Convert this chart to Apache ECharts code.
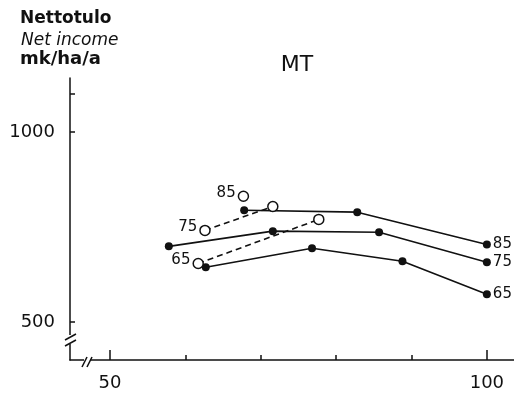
<!DOCTYPE html>
<html>
<head>
<meta charset="utf-8">
<script src="https://cdn.jsdelivr.net/npm/echarts@6/dist/echarts.min.js"></script>
<style>
html,body{margin:0;padding:0;background:#fff;}
#chart{width:514px;height:394px;}
</style>
</head>
<body>
<div id="chart"></div>
<script>
// ---- data ----
const xTicksShort = [60, 70, 80, 90];
const xTicksLong = [50, 100];
const xLabels = [50, 100];
const yTicks = [500, 1000, 1100];
const yLabels = [500, 1000];

const solidNames = ['85', '75', '65'];
const solid85X = [67.8, 82.8, 100];
const solid85Y = [794, 789, 704];
const solid75X = [57.8, 71.6, 85.7, 100];
const solid75Y = [699, 739, 736, 657];
const solid65X = [62.7, 76.8, 88.8, 100];
const solid65Y = [644, 694, 660, 573];

const openNames = ['85', '75', '65'];
const open85X = [67.7];
const open85Y = [831];
const open75X = [62.6, 71.6];
const open75Y = [741, 804];
const open65X = [61.7, 77.7];
const open65Y = [654, 770];

const titleText = 'MT';
const yTitle1 = 'Nettotulo';
const yTitle2 = 'Net income';
const yTitle3 = 'mk/ha/a';

// ---- chart ----
const FONT = '"DejaVu Sans", "Liberation Sans", Arial, sans-serif';
const INK = '#111';
const xMin = 44.69, xMax = 103.6, yMin = 400, yMax = 1142;

function pts(xs, ys) { return xs.map((x, i) => [x, ys[i]]); }

function solidSeries(name, xs, ys) {
  const data = pts(xs, ys).map((p, i, arr) => i === arr.length - 1 ? {
    value: p,
    label: { show: true, position: 'right', distance: 2, formatter: name,
      fontFamily: FONT, fontSize: 15, color: INK, offset: [0, 0] }
  } : { value: p });
  return {
    type: 'line', name: name + ' solid', data: data,
    symbol: 'circle', symbolSize: 8,
    itemStyle: { color: INK },
    lineStyle: { color: INK, width: 1.6 },
    z: 3, animation: false
  };
}
function openSeries(name, xs, ys) {
  const data = pts(xs, ys).map((p, i) => i === 0 ? {
    value: p,
    label: { show: true, position: 'left', distance: 2, formatter: name,
      fontFamily: FONT, fontSize: 15, color: INK, offset: [0, -3] }
  } : { value: p });
  return {
    type: 'line', name: name + ' open', data: data,
    symbol: 'circle', symbolSize: 10,
    itemStyle: { color: '#fff', borderColor: INK, borderWidth: 1.5 },
    lineStyle: { color: INK, width: 1.6, type: [6, 4] },
    z: 4, animation: false
  };
}

const plain = v => String(v);

const chart = echarts.init(document.getElementById('chart'), null, { renderer: 'canvas' });
const option = {
  backgroundColor: '#fff',
  animation: false,
  title: [
    { text: titleText, left: 292, top: 49, textAlign: 'center',
      textStyle: { fontFamily: FONT, fontSize: 22, fontWeight: 'normal', color: INK } },
    { text: yTitle1, left: 15, top: 5,
      textStyle: { fontFamily: FONT, fontSize: 17, fontWeight: 'bold', color: INK } },
    { text: yTitle2, left: 16, top: 27,
      textStyle: { fontFamily: FONT, fontSize: 17, fontStyle: 'italic', fontWeight: 'normal', color: INK } },
    { text: yTitle3, left: 15, top: 45,
      textStyle: { fontFamily: FONT, fontSize: 18, fontWeight: 'bold', color: INK } }
  ],
  grid: { left: 70, right: 0, top: 78, bottom: 34, containLabel: false },
  xAxis: [
    { type: 'value', min: xMin, max: xMax,
      axisLine: { show: true, lineStyle: { color: INK, width: 1.5 } },
      axisTick: { show: true, customValues: xTicksShort, length: 5, inside: true, lineStyle: { color: INK, width: 1.5 } },
      axisLabel: { show: true, customValues: xLabels, formatter: plain, margin: 14, fontFamily: FONT, fontSize: 18, color: INK },
      splitLine: { show: false } },
    { type: 'value', min: xMin, max: xMax, position: 'bottom', offset: 0,
      axisLine: { show: false },
      axisTick: { show: true, customValues: xTicksLong, length: 10, inside: true, lineStyle: { color: INK, width: 1.5 } },
      axisLabel: { show: false },
      splitLine: { show: false } }
  ],
  yAxis: {
    type: 'value', min: yMin, max: yMax,
    axisLine: { show: true, lineStyle: { color: INK, width: 1.5 } },
    axisTick: { show: true, customValues: yTicks, length: 5, inside: true, lineStyle: { color: INK, width: 1.5 } },
    axisLabel: { show: true, customValues: yLabels, formatter: plain, margin: 15, fontFamily: FONT, fontSize: 18, color: INK },
    splitLine: { show: false }
  },
  series: [
    solidSeries(solidNames[0], solid85X, solid85Y),
    solidSeries(solidNames[1], solid75X, solid75Y),
    solidSeries(solidNames[2], solid65X, solid65Y),
    openSeries(openNames[0], open85X, open85Y),
    openSeries(openNames[1], open75X, open75Y),
    openSeries(openNames[2], open65X, open65Y)
  ]
};
chart.setOption(option);

// axis break decorations
const o = chart.convertToPixel({ gridIndex: 0 }, [xMin, yMin]);
const ox = o[0], oy = o[1];
const ls = { stroke: INK, lineWidth: 1.5 };
chart.setOption({
  graphic: [
    { type: 'rect', shape: { x: ox - 4, y: oy - 25, width: 8, height: 9 }, style: { fill: '#fff' }, z: 10 },
    { type: 'line', shape: { x1: ox - 5, y1: oy - 20, x2: ox + 6, y2: oy - 26 }, style: ls, z: 11 },
    { type: 'line', shape: { x1: ox - 5, y1: oy - 14, x2: ox + 6, y2: oy - 20 }, style: ls, z: 11 },
    { type: 'rect', shape: { x: ox + 14, y: oy - 3, width: 6, height: 6 }, style: { fill: '#fff' }, z: 10 },
    { type: 'line', shape: { x1: ox + 12, y1: oy + 7, x2: ox + 17, y2: oy - 3 }, style: ls, z: 11 },
    { type: 'line', shape: { x1: ox + 17, y1: oy + 7, x2: ox + 22, y2: oy - 3 }, style: ls, z: 11 }
  ]
});
</script>
</body>
</html>
